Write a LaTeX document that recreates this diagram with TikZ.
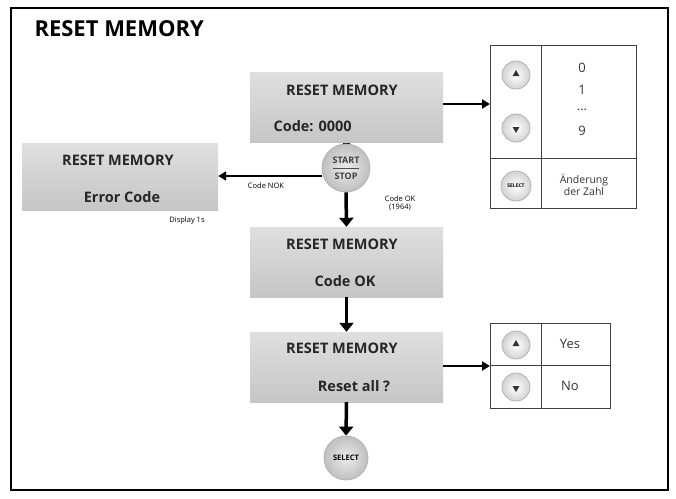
\documentclass[tikz,border=0pt]{standalone}
\usepackage{fontspec}
\setmainfont{Open Sans}
\usetikzlibrary{arrows.meta,shapes.geometric}
\begin{document}
\begin{tikzpicture}[x=1pt,y=-1pt,
  scr/.style={draw=none,top color=gray!25,bottom color=gray!45,minimum width=193pt,minimum height=70pt,inner sep=0pt},
  t/.style={font=\bfseries\fontsize{14.5}{15}\selectfont,text=black!85},
  arr/.style={line width=3.5pt,-{Triangle[length=9pt,width=14pt]}},
  harr/.style={line width=2.2pt,-{Triangle[length=8pt,width=9pt]}},
  btn/.style={circle,draw=gray!60,line width=0.8pt,inner color=white,outer color=gray!35,minimum size=28pt,inner sep=0pt},
  big/.style={circle,draw=gray!60,line width=0.8pt,inner color=gray!15,outer color=gray!50,minimum size=48pt,inner sep=0pt},
  tri/.style={regular polygon,regular polygon sides=3,fill=black!80,inner sep=0pt,minimum size=8pt},
  sm/.style={font=\fontsize{7.5}{8.5}\selectfont},
  tb/.style={font=\fontsize{13}{14}\selectfont,text=black!80}]
\useasboundingbox (0,0) rectangle (676,498);
\draw[line width=1.2pt] (11,8) rectangle (668,490);
\node[anchor=west,font=\bfseries\fontsize{22}{22}\selectfont] (title) at (31,29) {RESET MEMORY};
% screens
\node[scr] (b1) at (346.5,107.5) {};
\node[t] (b1a) at (342,90) {RESET MEMORY};
\node[t,anchor=west] (b1b) at (270,126) {Code: 0000};
\node[scr,minimum width=196pt,minimum height=67pt] (be) at (120,176.5) {};
\node[t] (bea) at (118,160) {RESET MEMORY};
\node[t] (beb) at (122,197) {Error Code};
\node[sm] (disp) at (187,221) {Display 1s};
\node[scr] (b2) at (346.5,262) {};
\node[t] (b2a) at (342,244) {RESET MEMORY};
\node[t] (b2b) at (345,281) {Code OK};
\node[scr] (b3) at (346.5,367) {};
\node[t] (b3a) at (342,348) {RESET MEMORY};
\node[t] (b3b) at (354,386) {Reset all ?};
% start/stop
\draw[line width=7pt] (b1.south -| 346,0) -- (346,150);
\node[big] (ss) at (346,168) {};
\node[font=\bfseries\fontsize{9}{9}\selectfont,text=black!75] (sst) at (346,160) {START};
\node[font=\bfseries\fontsize{9}{9}\selectfont,text=black!75] (ssb) at (346,176) {STOP};
\draw[black!70,line width=0.9pt] (333,168) -- (359,168);
\draw[harr] (ss.west |- 0,176) -- (be.east |- 0,176);
\node[sm] (nok) at (266,186) {Code NOK};
\node[sm,align=center] (ok) at (400,203) {Code OK\\(1964)};
\draw[arr] (ss.south) -- (b2.north);
\draw[arr] (b2.south) -- (b3.north);
\node[big,minimum size=44pt] (sel) at (346,458) {};
\node[font=\bfseries\fontsize{7.5}{8}\selectfont] (selt) at (346,458) {SELECT};
\draw[arr] (b3.south) -- (sel.north);
% table 1
\draw[line width=0.9pt,black!75] (490,45) rectangle (636,208) (541,45) -- (541,208) (490,158) -- (636,158);
\node[btn] (up1) at (516,75) {};
\node[tri] at (516,74) {};
\node[btn] (dn1) at (516,128) {};
\node[tri,rotate=180] at (516,129) {};
\node[btn,minimum size=30pt] (se1) at (516,186) {};
\node[font=\bfseries\fontsize{5}{5}\selectfont] at (516,186) {SELECT};
\node[tb] (n0) at (582,68) {0};
\node[tb] (n1) at (582,90) {1};
\node[tb] (nd) at (582,110) {...};
\node[tb] (n9) at (582,131) {9};
\node[tb,align=center,font=\fontsize{10.5}{12}\selectfont] (aend) at (584,185) {Änderung\\der Zahl};
\coordinate (t1) at (490,104);
\draw[harr] (b1.east |- t1) -- (t1);
% table 2
\draw[line width=0.9pt,black!75] (490,323) rectangle (610,408) (541,323) -- (541,408) (490,365) -- (610,365);
\node[btn] (up2) at (516,345) {};
\node[tri] at (516,344) {};
\node[btn] (dn2) at (516,387) {};
\node[tri,rotate=180] at (516,388) {};
\node[tb] (yes) at (570,344) {Yes};
\node[tb] (no) at (570,386) {No};
\coordinate (t2) at (490,366);
\draw[harr] (b3.east |- t2) -- (t2);
\end{tikzpicture}
\end{document}
